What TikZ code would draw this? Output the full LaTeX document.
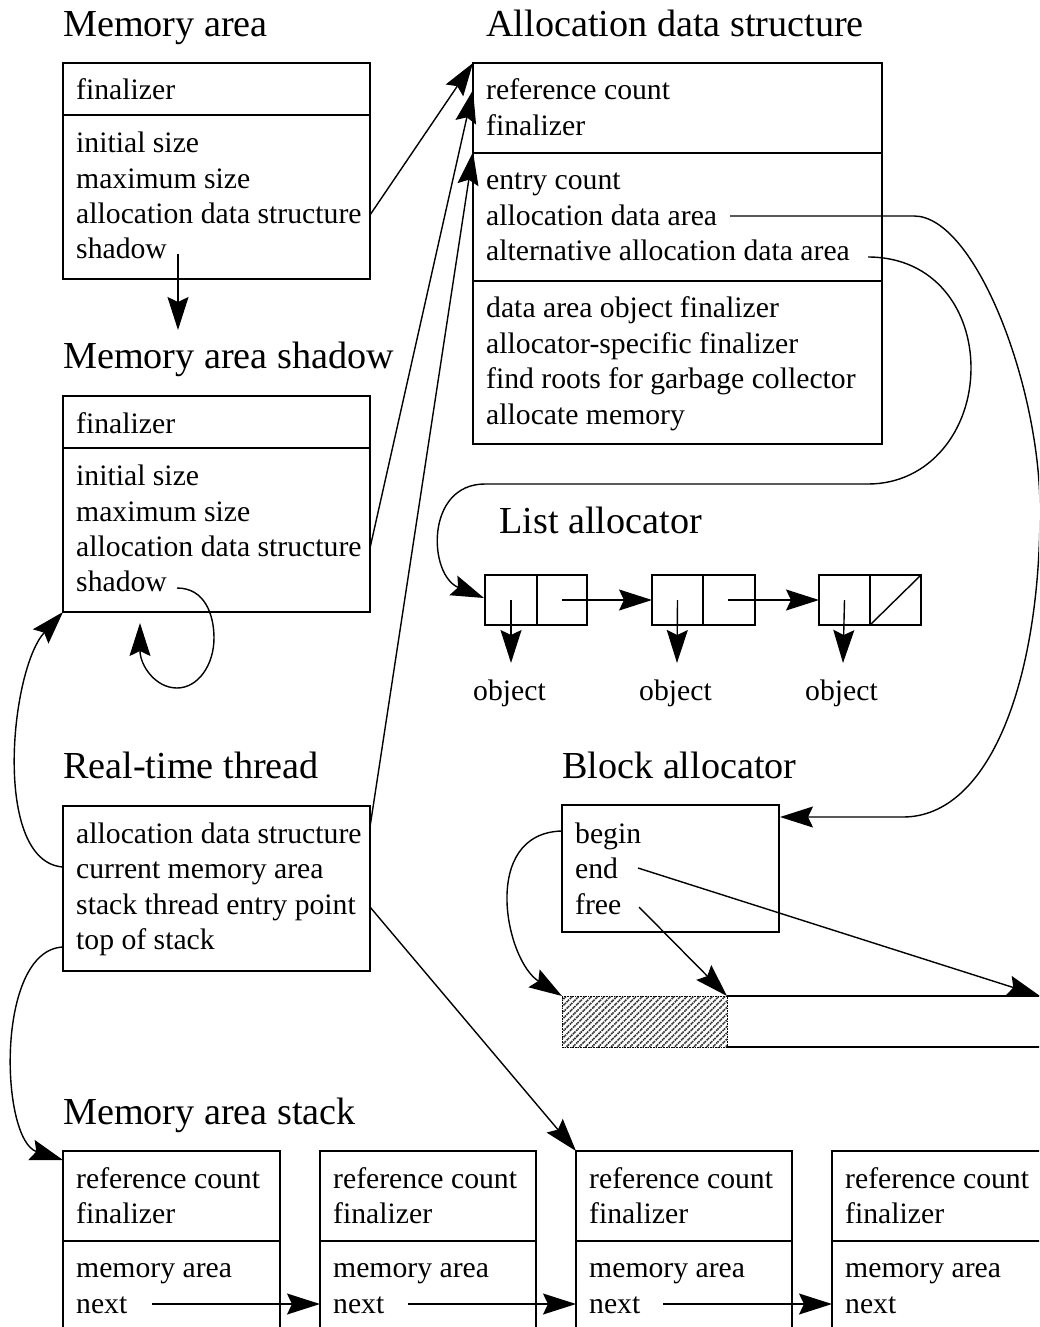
\documentclass[tikz,border=0pt]{standalone}
\usepackage{fontspec}
\setmainfont{Liberation Serif}
\usetikzlibrary{arrows.meta,patterns.meta}
\begin{document}
\begin{tikzpicture}[x=1pt,y=-1pt,
  txt/.style={anchor=base west,inner sep=0pt,font=\fontsize{29.7}{36}\selectfont},
  ttl/.style={anchor=base west,inner sep=0pt,font=\fontsize{38.2}{46}\selectfont},
  rec/.style={draw,line width=1.8pt,anchor=north west,inner sep=0pt,outer sep=0pt},
  divl/.style={line width=1.8pt},
  con/.style={line width=1.4pt},
  arr/.style={con,-{Stealth[length=33pt,width=21pt,inset=5pt]}},
  ]
\useasboundingbox (0,0) rectangle (1039,1327);
\clip (0,0) rectangle (1039,1327);

% ---------- titles
\node[ttl] (t-ma) at (63,37) {Memory area};
\node[ttl] (t-ad) at (486,37) {Allocation data structure};
\node[ttl] (t-sh) at (63,368) {Memory area shadow};
\node[ttl] (t-la) at (499,533) {List allocator};
\node[ttl] (t-rt) at (63,778) {Real-time thread};
\node[ttl] (t-ba) at (562,778) {Block allocator};
\node[ttl] (t-st) at (63,1124) {Memory area stack};

% ---------- Memory area
\node[rec,minimum width=307pt,minimum height=216pt] (ma) at (63,63) {};
\draw[divl] (63,115) -- (370,115);
\node[txt] (ma1) at (76,100) {finalizer};
\node[txt] (ma2) at (76,152) {initial size};
\node[txt] (ma3) at (76,188) {maximum size};
\node[txt] (ma4) at (76,223) {allocation data structure};
\node[txt] (ma5) at (76,258) {shadow};

% ---------- Memory area shadow
\node[rec,minimum width=307pt,minimum height=216pt] (sh) at (63,396) {};
\draw[divl] (63,448) -- (370,448);
\node[txt] (sh1) at (76,433) {finalizer};
\node[txt] (sh2) at (76,485) {initial size};
\node[txt] (sh3) at (76,521) {maximum size};
\node[txt] (sh4) at (76,556) {allocation data structure};
\node[txt] (sh5) at (76,591) {shadow};

% ---------- Real-time thread
\node[rec,minimum width=307pt,minimum height=165pt] (rt) at (63,806) {};
\node[txt] (rt1) at (76,843) {allocation data structure};
\node[txt] (rt2) at (76,878.5) {current memory area};
\node[txt] (rt3) at (76,914) {stack thread entry point};
\node[txt] (rt4) at (76,949.5) {top of stack};

% ---------- Allocation data structure
\node[rec,minimum width=409pt,minimum height=381pt] (ad) at (473,63) {};
\draw[divl] (473,153) -- (882,153);
\draw[divl] (473,281) -- (882,281);
\node[txt] (ad1) at (486,100) {reference count};
\node[txt] (ad2) at (486,135.5) {finalizer};
\node[txt] (ad3) at (486,189.5) {entry count};
\node[txt] (ad4) at (486,225) {allocation data area};
\node[txt] (ad5) at (486,260.5) {alternative allocation data area};
\node[txt] (ad6) at (486,317.5) {data area object finalizer};
\node[txt] (ad7) at (486,353) {allocator-specific finalizer};
\node[txt] (ad8) at (486,388.5) {find roots for garbage collector};
\node[txt] (ad9) at (486,424) {allocate memory};

% ---------- List allocator
\node[rec,minimum width=52pt,minimum height=50pt] (c1a) at (485,575) {};
\node[rec,minimum width=50pt,minimum height=50pt] (c1b) at (537,575) {};
\node[rec,minimum width=51pt,minimum height=50pt] (c2a) at (652,575) {};
\node[rec,minimum width=52pt,minimum height=50pt] (c2b) at (703,575) {};
\node[rec,minimum width=51pt,minimum height=50pt] (c3a) at (819,575) {};
\node[rec,minimum width=51pt,minimum height=50pt] (c3b) at (870,575) {};
\draw[con] (c3b.south west) -- (c3b.north east);
\node[txt,anchor=base] (o1) at (509.5,700) {object};
\node[txt,anchor=base] (o2) at (675.5,700) {object};
\node[txt,anchor=base] (o3) at (841.5,700) {object};

% ---------- Block allocator
\node[rec,minimum width=217pt,minimum height=127pt] (ba) at (562,805) {};
\node[txt] (ba1) at (575,843) {begin};
\node[txt] (ba2) at (575,878) {end};
\node[txt] (ba3) at (575,914) {free};
\node[draw,densely dotted,line width=1pt,anchor=north west,inner sep=0pt,outer sep=0pt,
      minimum width=165pt,minimum height=51pt,
      pattern={Lines[angle=45,distance=4.5pt,line width=1.6pt]},pattern color=black!80] (hatch) at (562,996) {};
\coordinate (barend1) at (1050,996);
\coordinate (barend2) at (1050,1047);
\draw[con] (hatch.north east) -- (barend1);
\draw[con] (hatch.south east) -- (barend2);

% ---------- Memory area stack
\foreach \i/\x/\w in {1/63/217,2/320/216,3/576/216,4/832/217}{
  \node[rec,minimum width=\w pt,minimum height=200pt] (s\i) at (\x,1151) {};
  \draw[divl] (\x,1241) -- (\x+\w,1241);
}
\foreach \i/\x in {1/76,2/333,3/589,4/845}{
  \node[txt] (s\i r) at (\x,1188) {reference count};
  \node[txt] (s\i f) at (\x,1223) {finalizer};
  \node[txt] (s\i m) at (\x,1277) {memory area};
  \node[txt] (s\i n) at (\x,1313) {next};
}

% ---------- coordinates for connector ends
\coordinate (ma-s) at (178,254);
\coordinate (ma-st) at (178,330);
\coordinate (ma-a) at (370,215);
\coordinate (sh-a) at (370,548);
\coordinate (rt-a) at (370,827);
\coordinate (ad-i2) at (473,90);
\coordinate (ad-i3) at (473,152);
\coordinate (sh-s) at (177,588);
\coordinate (sh-st) at (140,623);
\coordinate (rt-c) at (63,867);
\coordinate (rt-t) at (63,947);
\coordinate (rt-e) at (370,907);
\coordinate (s1-in) at (63,1160);
\coordinate (ad-b) at (730,216);
\coordinate (ad-c) at (868,257);
\coordinate (ba-in) at (780,817);
\coordinate (la-in) at (484,598);
\coordinate (ba-b) at (562,831);
\coordinate (ba-e) at (638,868);
\coordinate (ba-f) at (639,907);
\coordinate (bar-e) at (1040,996);
\coordinate (p1s) at (562,600);
\coordinate (p2s) at (728,600);
\coordinate (d1) at (511,663);
\coordinate (d2) at (677,663);
\coordinate (d3) at (843,663);
\coordinate (n1) at (152,1304);
\coordinate (n2) at (408,1304);
\coordinate (n3) at (663,1304);

% ---------- connectors
\draw[arr] (ma-s) -- (ma-st);
\draw[arr] (ma-a) -- (ad.north west);
\draw[arr] (sh-a) -- (ad-i2);
\draw[arr] (rt-a) -- (ad-i3);
\draw[arr] (sh-s) .. controls (205,588) and (214,615) .. (214,638)
  .. controls (214,665) and (198,688) .. (177,688)
  .. controls (155,688) and (140,665) .. (sh-st);
\draw[arr] (rt-c) .. controls (-8,862) and (10,670) .. (sh.south west);
\draw[arr] (rt-t) .. controls (-5,950) and (0,1140) .. (s1-in);
\draw[arr] (rt-e) -- (s3.north west);

\draw[arr] (ad-b) -- (914,216) .. controls (975,216) and (1040,385) .. (1040,510)
  .. controls (1040,680) and (990,817) .. (903,817) -- (ba-in);
\draw[arr] (ad-c) .. controls (935,257) and (971,310) .. (971,368)
  .. controls (971,430) and (930,484) .. (868,484) -- (485,484)
  .. controls (425,484) and (428,575) .. (la-in);

% list pointers
\draw[arr] (p1s) -- (c2a.west);
\draw[arr] (p2s) -- (c3a.west);
\draw[arr] (c1a.center) -- (d1);
\draw[arr] (c2a.center) -- (d2);
\draw[arr] (c3a.center) -- (d3);

% block allocator
\draw[arr] (ba-b) .. controls (480,833) and (505,960) .. (hatch.north west);
\draw[arr] (ba-f) -- (hatch.north east);
\draw[arr] (ba-e) -- (bar-e);

% stack next pointers
\draw[arr] (n1) -- (s2.west |- n1);
\draw[arr] (n2) -- (s3.west |- n2);
\draw[arr] (n3) -- (s4.west |- n3);
\end{tikzpicture}
\end{document}
